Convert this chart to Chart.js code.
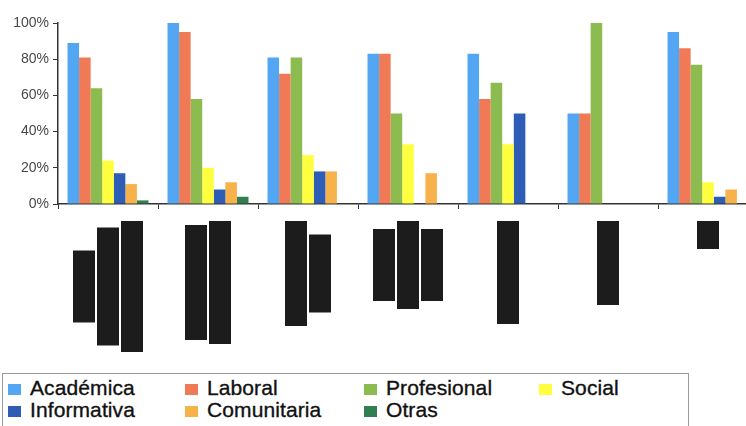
<!DOCTYPE html>
<html>
<head>
<meta charset="utf-8">
<script src="https://cdn.jsdelivr.net/npm/chart.js@4.4.1/dist/chart.umd.min.js"></script>
<style>
  html, body { margin: 0; padding: 0; background: #fff; overflow: hidden; width: 746px; height: 426px; }
  #wrap { position: absolute; left: 0; top: 0; width: 760px; height: 372px; }
  #legend {
    position: absolute; left: 2px; top: 373px; width: 687px; height: 70px;
    box-sizing: border-box; border: 1px solid #9a9a9a;
    padding: 3px 0 0 5px;
    font-family: "Liberation Sans", Arial, sans-serif; font-size: 21px;
    line-height: 22px; color: #111; -webkit-text-stroke: 0.35px #111;
    display: grid; grid-template-columns: 177px 179px 175px 150px; align-content: start;
  }
  .item { white-space: nowrap; letter-spacing: 0.1px; }
  .swatch { display: inline-block; width: 13px; height: 11px; margin-right: 9px; -webkit-text-stroke: 0; }
</style>
</head>
<body>
<div id="wrap"><canvas id="chart"></canvas></div>
<div id="legend"></div>
<script>
// category names are blacked out in the source picture
const categories = ['Grupo 1', 'Grupo 2', 'Grupo 3', 'Grupo 4', 'Grupo 5', 'Grupo 6', 'Grupo 7'];

const academica   = [89, 100, 81, 83, 83, 50, 95];
const laboral     = [81, 95, 72, 83, 58, 50, 86];
const profesional = [64, 58, 81, 50, 67, 100, 77];
const social      = [24, 20, 27, 33, 33, 0, 12];
const informativa = [17, 8, 18, 0, 50, 0, 4];
const comunitaria = [11, 12, 18, 17, 0, 0, 8];
const otras       = [2, 4, 0, 0, 0, 0, 0];

const yTicks = [0, 20, 40, 60, 80, 100];

// lengths (px) of the redacted label lines under each category
const redactedLines = [[72, 118, 131], [115, 123], [105, 78], [72, 88, 72], [103], [84], [28]];

const series = [
  { label: 'Académica',   data: academica,   color: '#52a6f2' },
  { label: 'Laboral',     data: laboral,     color: '#f07a55' },
  { label: 'Profesional', data: profesional, color: '#8cbb4f' },
  { label: 'Social',      data: social,      color: '#ffff40' },
  { label: 'Informativa', data: informativa, color: '#2d5db5' },
  { label: 'Comunitaria', data: comunitaria, color: '#f8b24c' },
  { label: 'Otras',       data: otras,       color: '#2f7f50' }
];

const redactPlugin = {
  id: 'redact',
  afterDraw(chart) {
    const { ctx, chartArea } = chart;
    const x = chart.scales.x;
    ctx.save();
    ctx.fillStyle = '#1c1c1c';
    redactedLines.forEach((lines, i) => {
      const cx = x.getPixelForValue(i);
      const longest = Math.max(...lines);
      const midY = chartArea.bottom + 17 + longest / 2;
      const pitch = 24, w = 22;
      const x0 = cx - (lines.length * pitch - 2) / 2;
      lines.forEach((len, j) => ctx.fillRect(x0 + j * pitch, midY - len / 2, w, len));
    });
    ctx.restore();
  }
};

const chart = new Chart(document.getElementById('chart'), {
  type: 'bar',
  data: {
    labels: categories,
    datasets: series.map(s => ({
      label: s.label,
      data: s.data,
      backgroundColor: s.color,
      borderWidth: 0,
      categoryPercentage: 0.81,
      barPercentage: 1.0
    }))
  },
  options: {
    responsive: true,
    maintainAspectRatio: false,
    animation: false,
    layout: { padding: { top: 23, right: 2, left: 0, bottom: 0 } },
    plugins: { legend: { display: false }, tooltip: { enabled: false } },
    scales: {
      x: {
        grid: { drawOnChartArea: false, drawTicks: true, tickLength: 5, color: '#333', offset: true },
        border: { color: '#333', width: 1.5 },
        ticks: { display: false },
        afterFit: s => { s.height = 168; }
      },
      y: {
        min: 0,
        max: 100,
        afterBuildTicks: s => { s.ticks = yTicks.map(v => ({ value: v })); },
        ticks: {
          callback: v => v + '%',
          color: '#484848',
          font: { family: 'Liberation Sans', size: 14 },
          padding: 4
        },
        grid: { drawOnChartArea: false, tickLength: 5, color: '#333' },
        border: { color: '#333', width: 1.5 },
        afterFit: s => { s.width = 58; }
      }
    }
  },
  plugins: [redactPlugin]
});

const legend = document.getElementById('legend');
chart.data.datasets.forEach(ds => {
  const item = document.createElement('div');
  item.className = 'item';
  item.innerHTML = `<span class="swatch" style="background:${ds.backgroundColor}"></span>${ds.label}`;
  legend.appendChild(item);
});
</script>
</body>
</html>
